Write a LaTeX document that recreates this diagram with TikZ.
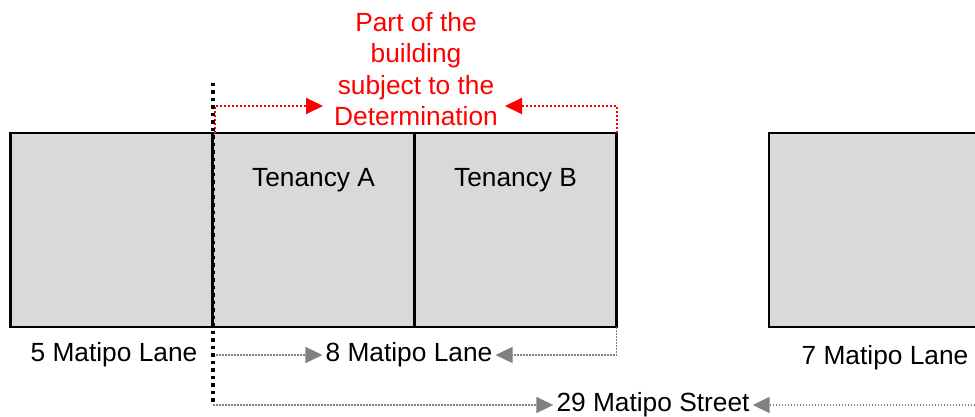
\documentclass[tikz,border=0pt]{standalone}
\usepackage{fontspec}
\setmainfont{Liberation Sans}
\usetikzlibrary{arrows.meta,positioning}

\begin{document}
\begin{tikzpicture}[
    x=1pt, y=-1pt,
    lot/.style={rectangle, draw, line width=2.5pt, fill=black!15, minimum width=202pt, minimum height=194pt, outer sep=0pt},
    txt/.style={font=\fontsize{26.3}{31.5}\selectfont, inner sep=3pt},
    detline/.style={red, line width=2pt, dash pattern=on 2pt off 2pt, -{Triangle[length=17pt,width=16pt]}},
    addrline/.style={black!50, line width=1.5pt, dash pattern=on 1.5pt off 1.5pt, -{Triangle[length=17pt,width=16pt]}},
    boundary/.style={line width=3.5pt, dash pattern=on 3.5pt off 4pt},
    node distance=0pt
]
\useasboundingbox (0,0) rectangle (975,417);
\clip (0,0) rectangle (975,417);

\node[lot] (lot5) at (111.5,230) {};
\node[lot, right=of lot5] (tenA) {};
\node[lot, right=of tenA] (tenB) {};
\node[lot, minimum width=260pt] (lot7) at (899,230) {};

\node[txt, below=32pt of tenA.north] (tenAtxt) {Tenancy A};
\node[txt, below=32pt of tenB.north] (tenBtxt) {Tenancy B};
\node[txt, red, align=center] (det) at (416,69) {Part of the\\building\\subject to the\\Determination};

\node[txt] (lane5) at (114,355) {5 Matipo Lane};
\node[txt] (lane8) at (409,355) {8 Matipo Lane};
\node[txt] (lane7) at (885,358) {7 Matipo Lane};
\node[txt] (street) at (653,405) {29 Matipo Street};

\coordinate (detL) at (323,106);
\coordinate (detR) at (505,106);
\coordinate (bndtop) at (213,83);
\coordinate (bndbot) at (213,405);
\coordinate (offright) at (990,405);

\draw[detline] ([xshift=2pt]tenA.north west) |- (detL);
\draw[detline] (tenB.north east) |- (detR);
\draw[addrline] (bndtop |- lane8) -- (lane8.west);
\draw[addrline] (tenB.south east) |- (lane8.east);
\draw[addrline] (bndbot) -- (street.west);
\draw[addrline] (offright) -- (street.east);
\draw[boundary] (bndtop) -- (bndbot);
\end{tikzpicture}
\end{document}
